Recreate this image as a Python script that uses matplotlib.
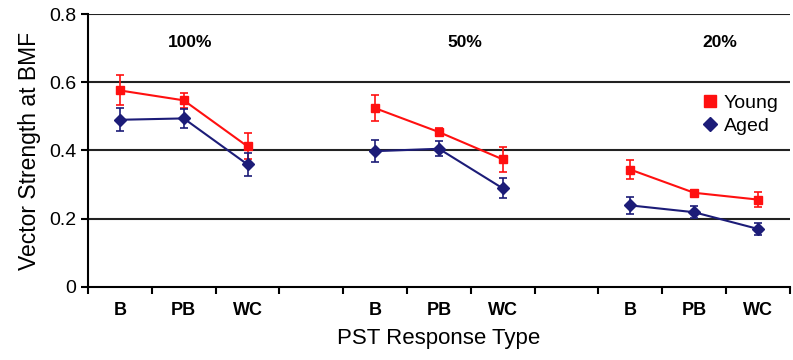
import matplotlib.pyplot as plt
from matplotlib.lines import Line2D
import numpy as np

plt.rcParams['font.family'] = ['Liberation Sans', 'DejaVu Sans']

# data
groups = ['100%', '50%', '20%']
types = ['B', 'PB', 'WC']
young_mean = [0.576, 0.547, 0.412, 0.524, 0.454, 0.374, 0.344, 0.276, 0.256]
young_err = [0.044, 0.022, 0.038, 0.039, 0.012, 0.036, 0.027, 0.008, 0.022]
aged_mean = [0.490, 0.494, 0.359, 0.398, 0.405, 0.289, 0.239, 0.219, 0.170]
aged_err = [0.034, 0.027, 0.033, 0.032, 0.022, 0.029, 0.025, 0.018, 0.018]

red = '#ff1010'
navy = '#1c1c78'
label_x = [1.1, 5.4, 9.4]  # where the group titles sit

fig = plt.figure(figsize=(7.93, 3.6), dpi=100)
ax = fig.add_axes([0.111, 0.203, 0.885, 0.758])

nt = len(types)
for g in range(len(groups)):
    xs = np.arange(nt) + g * (nt + 1)
    sl = slice(g * nt, (g + 1) * nt)
    ax.errorbar(xs, young_mean[sl], yerr=young_err[sl], color=red, marker='s',
                ms=6, lw=1.5, capsize=3, elinewidth=1.2, capthick=1.2, zorder=3)
    ax.errorbar(xs, aged_mean[sl], yerr=aged_err[sl], color=navy, marker='D',
                ms=6, lw=1.5, capsize=3, elinewidth=1.2, capthick=1.2, zorder=3)
    ax.text(label_x[g], 0.717, groups[g], fontsize=12.5,
            fontweight='bold', ha='center', va='center')

nslots = len(groups) * (nt + 1) - 1
ax.set_xlim(-0.5, nslots - 0.5)
ax.set_ylim(0, 0.8)

# tick marks at slot boundaries, labels at slot centres
ax.set_xticks(np.arange(-0.5, nslots, 1.0))
ax.set_xticklabels([])
centers = [g * (nt + 1) + i for g in range(len(groups)) for i in range(nt)]
ax.set_xticks(centers, minor=True)
ax.set_xticklabels(types * len(groups), minor=True, fontsize=13, fontweight='bold')
ax.tick_params(axis='x', which='minor', length=0, pad=11)
ax.tick_params(axis='x', which='major', length=5, width=1.5, direction='out')

ax.set_yticks([0, 0.2, 0.4, 0.6, 0.8])
ax.set_yticklabels(['0', '0.2', '0.4', '0.6', '0.8'])
ax.tick_params(axis='y', length=5, width=1.5, labelsize=14)

for y in [0.2, 0.4, 0.6, 0.8]:
    ax.axhline(y, color='#222222', lw=1.5, zorder=1)

ax.spines['top'].set_visible(False)
ax.spines['right'].set_visible(False)
ax.spines['left'].set_linewidth(1.5)
ax.spines['bottom'].set_linewidth(1.5)

ax.set_ylabel('Vector Strength at BMF', fontsize=16.5, labelpad=6)
ax.set_xlabel('PST Response Type', fontsize=16, labelpad=6)

handles = [Line2D([], [], color=red, marker='s', ls='none', ms=8),
           Line2D([], [], color=navy, marker='D', ls='none', ms=7)]
ax.legend(handles, ['Young', 'Aged'], loc='upper right', bbox_to_anchor=(0.995, 0.735),
          frameon=False, fontsize=14, handlelength=0.8, handletextpad=0.3,
          labelspacing=0.3, borderaxespad=0)

plt.savefig('out.png', dpi=100)
